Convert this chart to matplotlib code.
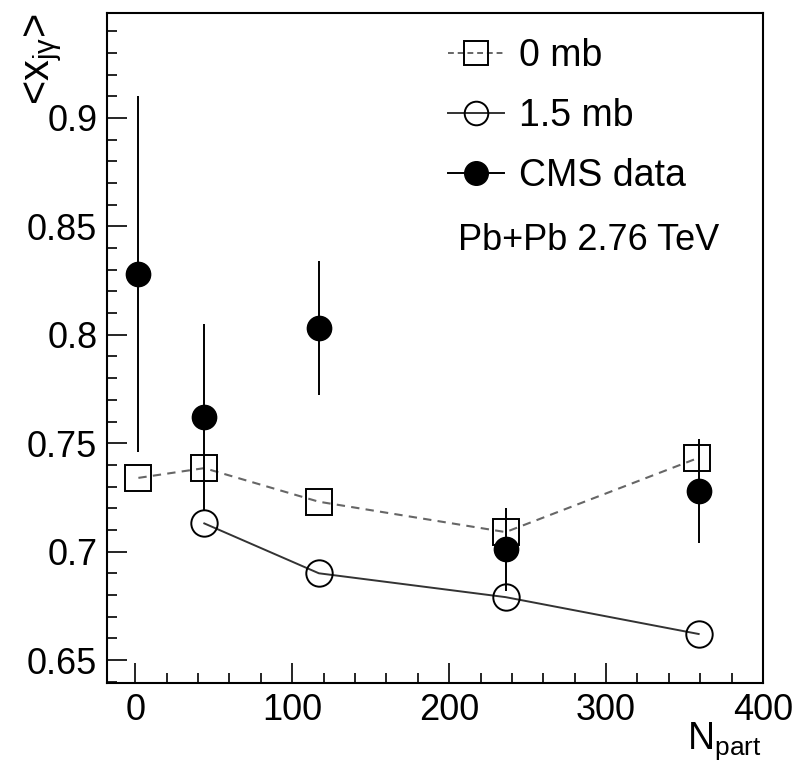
import matplotlib
matplotlib.use("Agg")
import matplotlib.pyplot as plt
from matplotlib.lines import Line2D
from matplotlib.ticker import MultipleLocator, FuncFormatter

# CMS data points with (symmetric) error bars
npart_cms = [2, 44, 117, 236, 359]
xjg_cms = [0.828, 0.762, 0.803, 0.701, 0.728]
err_cms = [0.082, 0.043, 0.031, 0.019, 0.024]

# model, 0 mb
npart_0mb = [2, 44, 117, 236, 358]
xjg_0mb = [0.734, 0.7385, 0.723, 0.709, 0.743]

# model, 1.5 mb
npart_15mb = [44, 117, 236, 359]
xjg_15mb = [0.713, 0.690, 0.679, 0.662]

labels = ["0 mb", "1.5 mb", "CMS data"]

plt.rcParams["font.family"] = ["Liberation Sans", "DejaVu Sans"]
plt.rcParams["mathtext.fontset"] = "custom"
plt.rcParams["mathtext.rm"] = "Liberation Sans"
plt.rcParams["mathtext.it"] = "Liberation Sans"
plt.rcParams["mathtext.default"] = "regular"

fig = plt.figure(figsize=(7.96, 7.65), dpi=100)
ax = fig.add_axes([107 / 796, 1 - 683 / 765, 656 / 796, 670 / 765])

ms = 19
ax.plot(npart_0mb, xjg_0mb, color="0.4", ls=(0, (4, 3)), lw=1.5,
        marker="s", ms=ms, mfc="none", mec="black", mew=1.4, zorder=2)
ax.plot(npart_15mb, xjg_15mb, color="0.2", ls="-", lw=1.4,
        marker="o", ms=ms, mfc="none", mec="black", mew=1.4, zorder=2)
ax.errorbar(npart_cms, xjg_cms, yerr=err_cms, fmt="o", color="black",
            ms=17.5, elinewidth=1.4, capsize=0, zorder=3)

ax.set_xlim(-18, 400)
ax.set_ylim(0.6394, 0.9484)

ax.xaxis.set_major_locator(MultipleLocator(100))
ax.xaxis.set_minor_locator(MultipleLocator(20))
ax.yaxis.set_major_locator(MultipleLocator(0.05))
ax.yaxis.set_minor_locator(MultipleLocator(0.01))
ax.yaxis.set_major_formatter(FuncFormatter(lambda v, p: f"{v:g}"))

ax.tick_params(which="both", direction="in", top=False, right=False,
               width=1.2, labelsize=26)
ax.tick_params(which="major", length=14.5, pad=7)
ax.tick_params(which="minor", length=7)
for s in ax.spines.values():
    s.set_linewidth(1.5)

ax.set_ylabel(r"<x$_{j\gamma}$>", fontsize=30, loc="top")
ax.yaxis.set_label_coords(-0.066, 1.0)
ax.set_xlabel(r"N$_{part}$", fontsize=27, loc="right")
ax.xaxis.set_label_coords(0.998, -0.056)

handles = [
    Line2D([], [], color="0.4", ls=(0, (3, 2)), lw=1.4, marker="s", ms=17,
           mfc="none", mec="black", mew=1.4),
    Line2D([], [], color="0.2", lw=1.4, marker="o", ms=17,
           mfc="none", mec="black", mew=1.4),
    Line2D([], [], color="black", lw=1.4, marker="o", ms=17),
]
ax.legend(handles, labels, loc="upper left", bbox_to_anchor=(448 / 796, 1 - 38 / 765),
          bbox_transform=fig.transFigure, frameon=False, fontsize=27,
          handlelength=1.5, handletextpad=0.4, labelspacing=0.64, borderpad=0,
          borderaxespad=0)
fig.text(458 / 796, 1 - 240 / 765, "Pb+Pb 2.76 TeV", fontsize=26, va="center")

fig.savefig("out.png", dpi=100)
